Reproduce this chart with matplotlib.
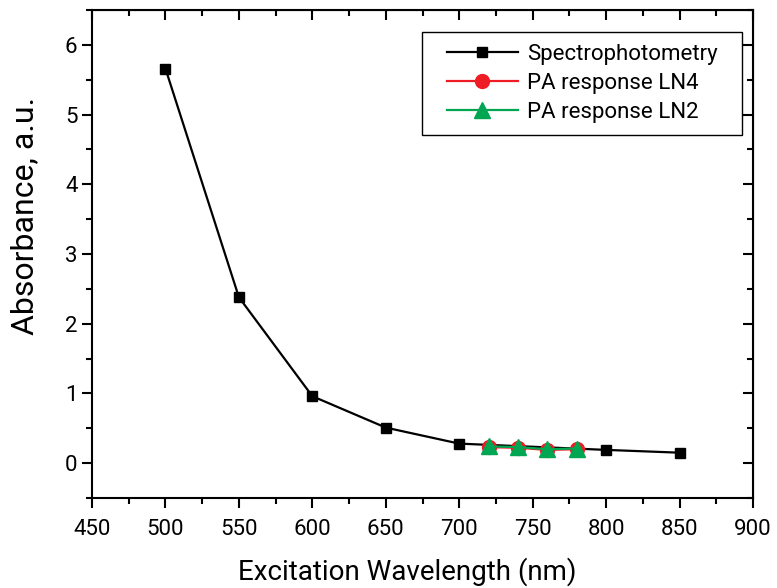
import matplotlib
matplotlib.use("Agg")
import matplotlib.pyplot as plt
from matplotlib.ticker import MultipleLocator

plt.rcParams['font.family'] = ['Roboto', 'DejaVu Sans']

wl_spec = [500, 550, 600, 650, 700, 800, 850]
abs_spec = [5.66, 2.38, 0.96, 0.51, 0.28, 0.19, 0.15]
wl_pa = [720, 740, 760, 780]
pa_ln4 = [0.23, 0.22, 0.19, 0.20]
pa_ln2 = [0.24, 0.23, 0.20, 0.21]

fig = plt.figure(figsize=(7.77, 5.88), dpi=100)
ax = fig.add_axes([92/777, 1-498/588, (753-92)/777, (498-10)/588])

ax.plot(wl_spec, abs_spec, color='black', marker='s', markersize=7.5, lw=1.6,
        label='Spectrophotometry')
ax.plot(wl_pa, pa_ln4, color='#ee1c25', marker='o', markersize=10, lw=1.6,
        label='PA response LN4')
ax.plot(wl_pa, pa_ln2, color='#00a651', marker='^', markersize=11, lw=1.6,
        label='PA response LN2')

ax.set_xlim(450, 900)
ax.set_ylim(-0.5, 6.5)
ax.xaxis.set_major_locator(MultipleLocator(50))
ax.xaxis.set_minor_locator(MultipleLocator(25))
ax.yaxis.set_major_locator(MultipleLocator(1))
ax.yaxis.set_minor_locator(MultipleLocator(0.5))
ax.tick_params(which='both', direction='out', top=False, right=False, width=1.5)
ax.tick_params(which='major', length=7, labelsize=16)
ax.tick_params(axis='x', which='major', pad=8)
ax.tick_params(which='minor', length=4)
for s in ax.spines.values():
    s.set_linewidth(1.5)

axt = ax.secondary_xaxis('top')
axt.xaxis.set_major_locator(MultipleLocator(50))
axt.xaxis.set_minor_locator(MultipleLocator(25))
axt.tick_params(which='both', direction='in', labeltop=False, width=1.5)
axt.tick_params(which='major', length=7)
axt.tick_params(which='minor', length=4)
axr = ax.secondary_yaxis('right')
axr.yaxis.set_major_locator(MultipleLocator(1))
axr.yaxis.set_minor_locator(MultipleLocator(0.5))
axr.tick_params(which='both', direction='in', labelright=False, width=1.5)
axr.tick_params(which='major', length=7)
axr.tick_params(which='minor', length=4)

ax.set_xlabel('Excitation Wavelength (nm)', fontsize=20)
ax.set_ylabel('Absorbance, a.u.', fontsize=23)
ax.xaxis.set_label_coords((407-92)/661, -(572-498)/488)
ax.yaxis.set_label_coords(-(92-25)/661, (498-216)/488)
ax.xaxis.label.set_va('center')
ax.yaxis.label.set_va('center')

leg = ax.legend(loc='upper right', fontsize=16, fancybox=False, edgecolor='black',
                framealpha=1, borderpad=0.55, handlelength=3.2, labelspacing=0.35,
                handletextpad=0.4, borderaxespad=0,
                bbox_to_anchor=((742-92)/661, (498-32)/488))
leg.get_frame().set_linewidth(1.0)
# widen the legend frame on the right like the reference
fig.canvas.draw()
leg._legend_box.set_width(leg._legend_box.get_window_extent(fig.canvas.get_renderer()).width)

fig.savefig('out.png', dpi=100)
